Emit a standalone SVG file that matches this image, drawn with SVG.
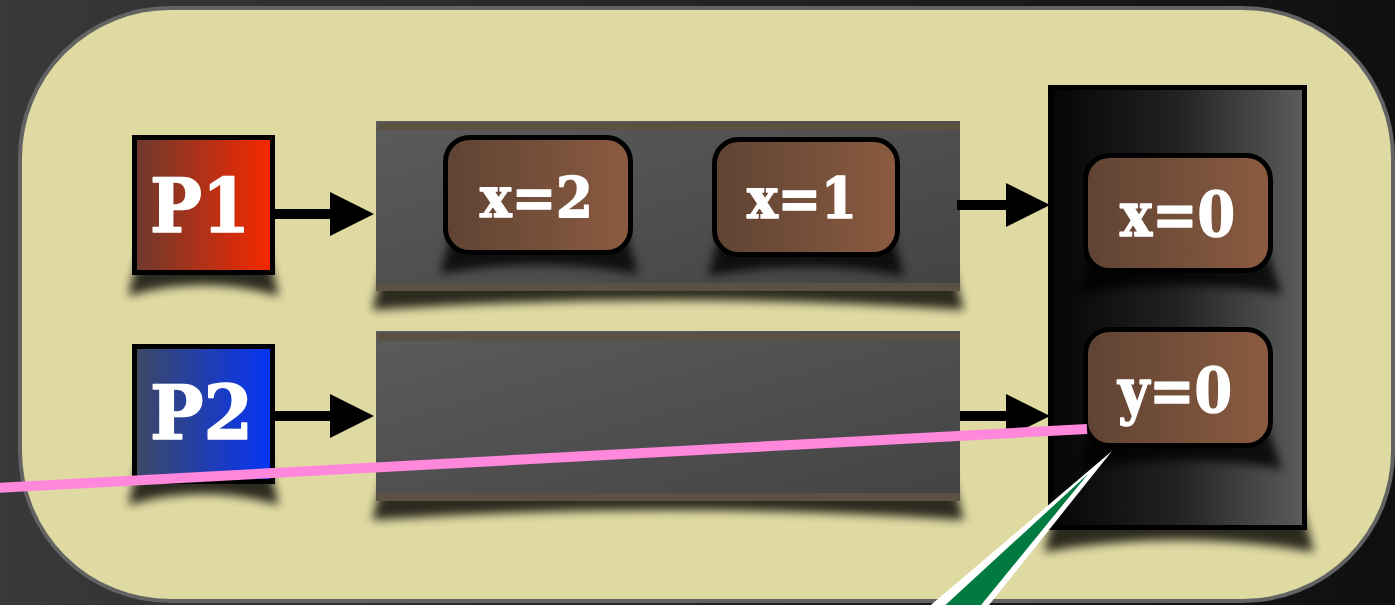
<svg xmlns="http://www.w3.org/2000/svg" width="1395" height="605" viewBox="0 0 1395 605">
  <style>
    .lbl { font-family: "DejaVu Serif", "Liberation Serif", serif; font-weight: bold; fill: #ffffff; stroke: #ffffff; stroke-width: 1.5; stroke-linejoin: round; text-anchor: middle; }
    .big { font-size: 74px; }
    .val { font-size: 56px; }
    .mval { font-size: 61px; }
    .pbox { stroke: #000; stroke-width: 5; }
    .cell { stroke: #000; stroke-width: 5; fill: url(#gBrown); }
    .band { fill: #5a5142; }
    .shadow { fill: #000; opacity: 0.8; filter: url(#soft); }
    .arrow { stroke: #000; stroke-width: 10; fill: none; marker-end: url(#head); }
  </style>
  <defs>
    <linearGradient id="gBg" x1="0" y1="0" x2="1" y2="0">
      <stop offset="0" stop-color="#393939"/>
      <stop offset="1" stop-color="#0f0f0f"/>
    </linearGradient>
    <linearGradient id="gRed" x1="0" y1="0" x2="1" y2="0">
      <stop offset="0" stop-color="#6b3a2e"/>
      <stop offset="1" stop-color="#f72800"/>
    </linearGradient>
    <linearGradient id="gBlue" x1="0" y1="0" x2="1" y2="0">
      <stop offset="0" stop-color="#3d4863"/>
      <stop offset="1" stop-color="#0534f8"/>
    </linearGradient>
    <linearGradient id="gBrown" x1="0" y1="0" x2="1" y2="0">
      <stop offset="0" stop-color="#5f4333"/>
      <stop offset="1" stop-color="#8b5b40"/>
    </linearGradient>
    <linearGradient id="gQueue" x1="0" y1="0" x2="1" y2="1">
      <stop offset="0" stop-color="#5b5b5b"/>
      <stop offset="1" stop-color="#434343"/>
    </linearGradient>
    <linearGradient id="gMem" x1="0" y1="0" x2="1" y2="0">
      <stop offset="0" stop-color="#050505"/>
      <stop offset="0.5" stop-color="#222222"/>
      <stop offset="1" stop-color="#5c5c5c"/>
    </linearGradient>
    <filter id="soft" x="-20%" y="-50%" width="140%" height="200%">
      <feGaussianBlur stdDeviation="5"/>
    </filter>
    <marker id="head" markerUnits="userSpaceOnUse" markerWidth="46" markerHeight="46" refX="1" refY="22" orient="auto">
      <path d="M0,0 L44,22 L0,44 Z" fill="#000"/>
    </marker>
  </defs>

  <!-- backdrop and rounded panel -->
  <rect x="0" y="0" width="1395" height="605" fill="url(#gBg)"/>
  <rect x="20" y="8" width="1373" height="593" rx="150" ry="150" fill="#dfd9a2" stroke="#636363" stroke-width="4"/>

  <!-- curled shadows under the boxes on the panel -->
  <g id="panel-shadows">
    <path class="shadow" d="M140,250 L267,250 L279,296 Q203,274 128,296 Z"/>
    <path class="shadow" d="M140,459 L267,459 L279,505 Q203,483 128,505 Z"/>
    <path class="shadow" d="M384,266 L952,266 L964,310 Q668,290 372,310 Z"/>
    <path class="shadow" d="M384,476 L952,476 L964,520 Q668,500 372,520 Z"/>
    <path class="shadow" d="M1058,500 L1300,500 L1314,552 Q1178,528 1044,552 Z"/>
  </g>

  <!-- process P1 -->
  <g id="p1">
    <rect class="pbox" x="134.5" y="137.5" width="138" height="135" fill="url(#gRed)"/>
    <text class="lbl big" x="200" y="232" textLength="100" lengthAdjust="spacingAndGlyphs">P1</text>
  </g>

  <!-- process P2 -->
  <g id="p2">
    <rect class="pbox" x="134.5" y="346.5" width="138" height="135" fill="url(#gBlue)"/>
    <text class="lbl big" x="201.5" y="439" textLength="103" lengthAdjust="spacingAndGlyphs">P2</text>
  </g>

  <!-- store buffer of P1 -->
  <g id="queue1">
    <rect x="376" y="121" width="584" height="170" fill="url(#gQueue)"/>
    <rect class="band" x="378" y="123" width="582" height="7"/>
    <rect class="band" x="376" y="283" width="584" height="8"/>
  </g>

  <!-- store buffer of P2 -->
  <g id="queue2">
    <rect x="376" y="331" width="584" height="170" fill="url(#gQueue)"/>
    <rect class="band" x="378" y="333" width="582" height="8"/>
    <rect class="band" x="376" y="493" width="584" height="8"/>
  </g>

  <!-- shared memory -->
  <g id="memory">
    <rect x="1050.5" y="87.5" width="254" height="440" fill="url(#gMem)" stroke="#000" stroke-width="5"/>
  </g>

  <!-- shadows of the value cells, over the buffers and memory -->
  <g id="cell-shadows">
    <path class="shadow" d="M452,232 L626,232 L638,274 Q539,256 440,274 Z"/>
    <path class="shadow" d="M720,234 L892,234 L904,276 Q808,258 708,276 Z"/>
    <path class="shadow" d="M1091,250 L1266,250 L1282,294 Q1178,276 1079,294 Z"/>
    <path class="shadow" d="M1091,425 L1266,425 L1282,469 Q1178,451 1079,469 Z"/>
  </g>

  <g id="cell-x2">
    <rect class="cell" x="445.5" y="137.5" width="185" height="115" rx="24"/>
    <text class="lbl val" x="536.5" y="217" textLength="113" lengthAdjust="spacingAndGlyphs">x=2</text>
  </g>
  <g id="cell-x1">
    <rect class="cell" x="714.5" y="139.5" width="183" height="115" rx="24"/>
    <text class="lbl val" x="802" y="218" textLength="110" lengthAdjust="spacingAndGlyphs">x=1</text>
  </g>
  <g id="cell-x0">
    <rect class="cell" x="1085.5" y="155.5" width="185" height="115" rx="24"/>
    <text class="lbl mval" x="1177.5" y="236" textLength="115" lengthAdjust="spacingAndGlyphs">x=0</text>
  </g>
  <g id="cell-y0">
    <rect class="cell" x="1085.5" y="329.5" width="185" height="116" rx="24"/>
    <text class="lbl mval" x="1175" y="412" textLength="114" lengthAdjust="spacingAndGlyphs">y=0</text>
  </g>

  <!-- connectors -->
  <g id="connectors">
    <line class="arrow" x1="275" y1="214" x2="331" y2="214"/>
    <line class="arrow" x1="957" y1="205" x2="1007" y2="205"/>
    <line class="arrow" x1="275" y1="416" x2="331" y2="416"/>
    <line class="arrow" x1="960" y1="416" x2="1007" y2="416"/>
  </g>

  <!-- highlight stroke across P2's row -->
  <g id="marker-line">
    <line x1="-5" y1="488" x2="1087" y2="429" stroke="#ff88dd" stroke-width="10"/>
  </g>

  <!-- callout pointer -->
  <g id="callout">
    <polygon points="1112,451 985,610 925,610" fill="#ffffff"/>
    <polygon points="1088,474 977,610 940,610" fill="#017a42"/>
  </g>
</svg>
